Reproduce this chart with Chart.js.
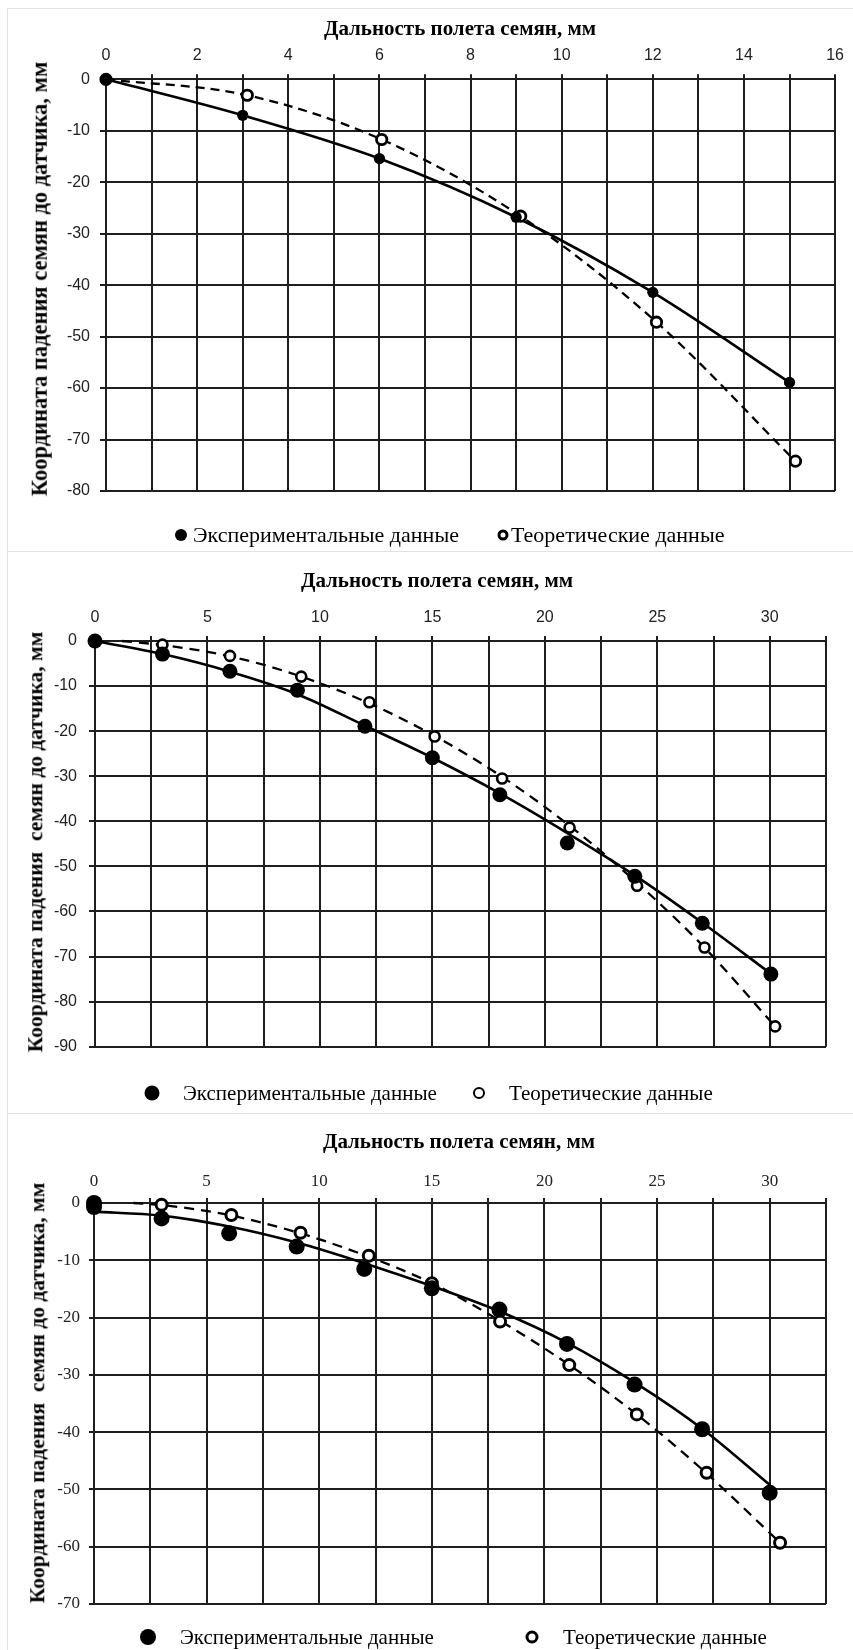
<!DOCTYPE html>
<html lang="ru">
<head>
<meta charset="utf-8">
<title>Дальность полета семян</title>
<script src="https://cdn.jsdelivr.net/npm/chart.js@4.4.1/dist/chart.umd.min.js"></script>
<style>
  html, body { margin: 0; padding: 0; background: #fff; }
  body { position: relative; width: 853px; height: 1650px; overflow: hidden; font-family: 'Liberation Serif', 'Times New Roman', serif; color: #000; }
  .rule-v { position: absolute; left: 7px; top: 8px; width: 1px; height: 1642px; background: #e2e2e2; }
  .rule-h { position: absolute; left: 7px; width: 846px; height: 1px; background: #e2e2e2; }
  .panel { position: absolute; left: 0; width: 853px; }
  .panel .plot { position: absolute; left: 0; top: 0; width: 100%; height: 100%; }
  .x-title, .y-title { position: absolute; font-weight: bold; white-space: pre; line-height: 1; }
  .x-title { transform: translate(-50%, -50%); }
  .y-title { transform: translate(-50%, -50%) rotate(-90deg); }
  .leg { position: absolute; transform: translateY(-50%); white-space: nowrap; line-height: 1; }
  .mark { position: absolute; border-radius: 50%; box-sizing: border-box; transform: translate(-50%, -50%); }
  .mark.cheio { background: #000; }
  .mark.vazio { background: #fff; border: 2.5px solid #000; }
</style>
</head>
<body>
<div class="rule-v"></div>
<div class="rule-h" style="top:8px"></div>
<div class="rule-h" style="top:551px"></div>
<div class="rule-h" style="top:1113px"></div>

<!-- Графік 1 -->
<div class="panel" style="top:9px;height:542px">
  <div class="plot"><canvas id="chart-1"></canvas></div>
  <div class="x-title" style="left:460px;top:19px;font-size:21px">Дальность полета семян, мм</div>
  <div class="y-title" style="left:40px;top:270px;font-size:22.5px">Координата падения семян до датчика, мм</div>
  <span class="mark cheio" style="left:181px;top:526px;width:12px;height:12px"></span>
  <span class="leg" style="left:193px;top:526px;font-size:22px">Экспериментальные данные</span>
  <span class="mark vazio" style="left:503px;top:526px;width:11px;height:11px;border-width:3px"></span>
  <span class="leg" style="left:511px;top:526px;font-size:22px">Теоретические данные</span>
</div>

<!-- Графік 2 -->
<div class="panel" style="top:552px;height:561px">
  <div class="plot"><canvas id="chart-2"></canvas></div>
  <div class="x-title" style="left:437px;top:28px;font-size:21px">Дальность полета семян, мм</div>
  <div class="y-title" style="left:36px;top:290px;font-size:21.5px">Координата падения  семян до датчика, мм</div>
  <span class="mark cheio" style="left:152px;top:541px;width:15px;height:15px"></span>
  <span class="leg" style="left:183px;top:541px;font-size:21px">Экспериментальные данные</span>
  <span class="mark vazio" style="left:479px;top:541px;width:12px;height:12px"></span>
  <span class="leg" style="left:509px;top:541px;font-size:21px">Теоретические данные</span>
</div>

<!-- Графік 3 -->
<div class="panel" style="top:1114px;height:536px">
  <div class="plot"><canvas id="chart-3"></canvas></div>
  <div class="x-title" style="left:459px;top:27px;font-size:21px">Дальность полета семян, мм</div>
  <div class="y-title" style="left:38px;top:279px;font-size:21.5px">Координата падения  семян до датчика, мм</div>
  <span class="mark cheio" style="left:148px;top:523px;width:16px;height:16px"></span>
  <span class="leg" style="left:180px;top:523px;font-size:21px">Экспериментальные данные</span>
  <span class="mark vazio" style="left:532px;top:523px;width:13px;height:13px;border-width:3px"></span>
  <span class="leg" style="left:563px;top:523px;font-size:21px">Теоретические данные</span>
</div>

<script>
/* ---------- Дані графіка 1 (мм) ---------- */
const dist1Exp = [0, 3, 6, 9, 12, 15];
const coord1Exp = [0, -7, -15.4, -26.8, -41.4, -58.9];
const dist1Theo = [0, 3.1, 6.05, 9.1, 12.08, 15.13];
const coord1Theo = [0, -3.1, -11.7, -26.6, -47.2, -74.2];
const xLabels1 = [0, 2, 4, 6, 8, 10, 12, 14, 16];
const yLabels1 = [0, -10, -20, -30, -40, -50, -60, -70, -80];

/* ---------- Дані графіка 2 ---------- */
const dist2Exp = [0, 3, 6, 9, 12, 15, 18, 21, 24, 27, 30.05];
const coord2Exp = [0, -2.9, -6.7, -10.9, -18.9, -25.9, -34.1, -44.8, -52.2, -62.6, -73.9];
const dist2Theo = [3, 6, 9.17, 12.2, 15.1, 18.1, 21.1, 24.1, 27.1, 30.24];
const coord2Theo = [-0.8, -3.3, -7.9, -13.6, -21.2, -30.5, -41.4, -54.3, -68, -85.5];
// лінії тренду
const dist2FitExp = [0, 3, 6, 9, 12, 15, 18, 21, 24, 27, 30.05];
const coord2FitExp = [0, -2.9, -6.8, -11.8, -18.8, -25.9, -33.8, -42.6, -52, -62.5, -73.8];
const dist2FitTheo = [1.2, 3, 6, 9, 12, 15, 18, 21, 24, 27, 30.24];
const coord2FitTheo = [0, -0.9, -3.4, -7.6, -13.4, -20.8, -29.8, -40.6, -53.2, -67.5, -85.5];
const xLabels2 = [0, 5, 10, 15, 20, 25, 30];
const yLabels2 = [0, -10, -20, -30, -40, -50, -60, -70, -80, -90];

/* ---------- Дані графіка 3 ---------- */
const dist3Exp = [0, 0, 3, 6, 9, 12, 15, 18, 21, 24, 27, 30];
const coord3Exp = [0, -0.7, -2.7, -5.3, -7.6, -11.5, -14.9, -18.6, -24.6, -31.7, -39.5, -50.6];
const dist3Theo = [3, 6.1, 9.17, 12.2, 15, 18.03, 21.1, 24.1, 27.2, 30.46];
const coord3Theo = [-0.3, -2.1, -5.2, -9.2, -14, -20.7, -28.3, -36.9, -47.1, -59.3];
const dist3FitExp = [0, 3, 6, 9, 12, 15, 18, 21, 24, 27, 30];
const coord3FitExp = [-1.5, -2.2, -4.1, -6.9, -10.5, -14.5, -18.9, -24.4, -31.3, -39.4, -49.2];
const dist3FitTheo = [1.75, 3, 6, 9, 12, 15, 18, 21, 24, 27, 30.46];
const coord3FitTheo = [0, -0.35, -2.1, -5.1, -9.1, -14, -20.5, -28, -36.6, -46.5, -59.3];
const xLabels3 = [0, 5, 10, 15, 20, 25, 30];
const yLabels3 = [0, -10, -20, -30, -40, -50, -60, -70];

const SeedChartsPage = {
  graficos: {},

  init() {
    // Кожен графік: точки (досвід / теорія) + дві лінії; геометрія — під рисунок
    this.graficos[1] = this.criarGrafico('chart-1', {
      exp: [dist1Exp, coord1Exp], theo: [dist1Theo, coord1Theo],
      fitExp: [dist1Exp, coord1Exp], fitTheo: [dist1Theo, coord1Theo],
      xMax: 16, xStep: 1, xLabels: xLabels1, yLabels: yLabels1,
      dot: 5.6, ring: 5.2, ringWidth: 2.8, line: 2.6, dash: [9, 6],
      box: { width: 853, height: 542, left: 106, right: 837, top: 70.3, bottom: 482 },
      tickFont: { family: "'Liberation Sans', Arial, sans-serif", size: 16 }, xPad: 9, yPad: 10, yTick: 6
    });
    this.graficos[2] = this.criarGrafico('chart-2', {
      exp: [dist2Exp, coord2Exp], theo: [dist2Theo, coord2Theo],
      fitExp: [dist2FitExp, coord2FitExp], fitTheo: [dist2FitTheo, coord2FitTheo],
      xMax: 32.5, xStep: 2.5, xLabels: xLabels2, yLabels: yLabels2,
      dot: 7.5, ring: 5, ringWidth: 2.6, line: 2.6, dash: [10, 7],
      box: { width: 853, height: 561, left: 95, right: 826, top: 89, bottom: 494.7 },
      tickFont: { family: "'Liberation Sans', Arial, sans-serif", size: 16 }, xPad: 9, yPad: 12, yTick: 6
    });
    this.graficos[3] = this.criarGrafico('chart-3', {
      exp: [dist3Exp, coord3Exp], theo: [dist3Theo, coord3Theo],
      fitExp: [dist3FitExp, coord3FitExp], fitTheo: [dist3FitTheo, coord3FitTheo],
      xMax: 32.5, xStep: 2.5, xLabels: xLabels3, yLabels: yLabels3,
      dot: 8, ring: 5.5, ringWidth: 3, line: 2.6, dash: [10, 7],
      box: { width: 853, height: 536, left: 94, right: 826, top: 89, bottom: 490 },
      tickFont: { family: "'Liberation Serif', 'Times New Roman', serif", size: 17 }, xPad: 6, yPad: 9, yTick: 5
    });
  },

  pontos(xs, ys) {
    return xs.map((x, i) => ({ x, y: ys[i] }));
  },

  criarGrafico(id, c) {
    const b = c.box;
    const linha = { color: '#1e1e1e', lineWidth: 2 };
    return new Chart(document.getElementById(id), {
      type: 'scatter',
      data: {
        datasets: [
          { label: 'Экспериментальные данные', data: this.pontos(...c.exp), pointRadius: c.dot, pointHoverRadius: c.dot,
            backgroundColor: '#000', borderColor: '#000', borderWidth: 0, clip: false },
          { label: 'Теоретические данные', data: this.pontos(...c.theo), pointRadius: c.ring, pointHoverRadius: c.ring,
            backgroundColor: '#fff', borderColor: '#000', borderWidth: c.ringWidth, clip: false },
          { data: this.pontos(...c.fitExp), showLine: true, pointRadius: 0, borderColor: '#000',
            borderWidth: c.line, cubicInterpolationMode: 'monotone', clip: false },
          { data: this.pontos(...c.fitTheo), showLine: true, pointRadius: 0, borderColor: '#000',
            borderWidth: c.line - 0.3, borderDash: c.dash, cubicInterpolationMode: 'monotone', clip: false }
        ]
      },
      options: {
        responsive: true,
        maintainAspectRatio: false,
        animation: false,
        events: [],
        layout: { padding: { left: 0, top: 0, right: b.width - b.right, bottom: b.height - b.bottom } },
        plugins: { legend: { display: false }, tooltip: { enabled: false } },
        scales: {
          x: {
            type: 'linear', position: 'top', min: 0, max: c.xMax,
            afterFit: s => { s.height = b.top; },
            ticks: { stepSize: c.xStep, autoSkip: false, maxRotation: 0, padding: c.xPad, font: c.tickFont, color: '#222',
              callback: v => (c.xLabels.includes(v) ? String(v) : '') },
            grid: { ...linha, tickLength: 5 },
            border: { color: '#1e1e1e', width: 2 }
          },
          y: {
            type: 'linear', position: 'left', min: Math.min(...c.yLabels), max: 0,
            afterFit: s => { s.width = b.left; },
            ticks: { stepSize: 10, autoSkip: false, padding: c.yPad, font: c.tickFont, color: '#222',
              callback: v => (c.yLabels.includes(v) ? String(v) : '') },
            grid: { ...linha, tickLength: c.yTick },
            border: { color: '#1e1e1e', width: 2 }
          }
        }
      }
    });
  }
};

document.addEventListener('DOMContentLoaded', () => SeedChartsPage.init());
</script>
</body>
</html>
